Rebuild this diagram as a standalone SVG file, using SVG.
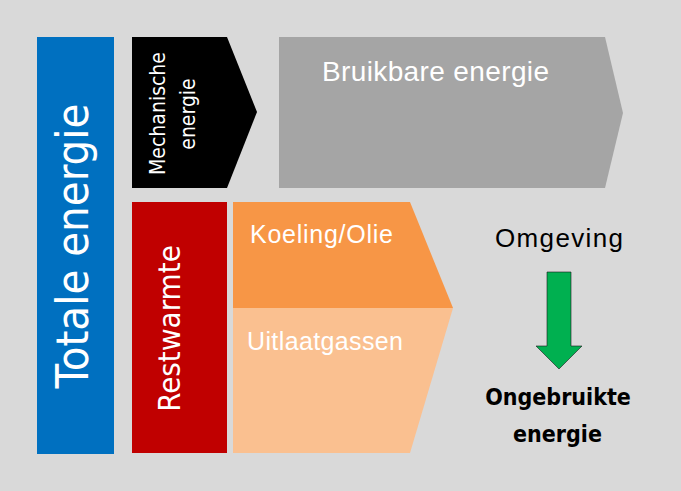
<svg xmlns="http://www.w3.org/2000/svg" width="681" height="491" viewBox="0 0 681 491">
<style>
.cond{font-family:"DejaVu Sans Condensed","DejaVu Sans",sans-serif;font-stretch:condensed;fill:#ffffff}
.cal{font-family:"Liberation Sans",Arial,sans-serif;fill:#ffffff}
.bold{font-family:"DejaVu Sans Condensed","DejaVu Sans",sans-serif;font-stretch:condensed;font-weight:bold;fill:#000000;text-anchor:middle}
</style>
<rect x="0" y="0" width="681" height="491" fill="#d9d9d9"/>
<g id="totale">
<rect x="37" y="37" width="77" height="417" fill="#0070c0"/>
<text class="cond" font-size="45" text-anchor="middle" transform="translate(88,246) rotate(-90)">Totale energie</text>
</g>
<g id="mechanisch">
<polygon points="132,37 227,37 257,112 227,188 132,188" fill="#000000"/>
<text class="cond" font-size="21" text-anchor="middle" transform="translate(165,113.5) rotate(-90)">Mechanische</text>
<text class="cond" font-size="21" text-anchor="middle" transform="translate(195,114) rotate(-90)">energie</text>
</g>
<g id="bruikbaar">
<polygon points="279,37 605,37 623,113 605,188 279,188" fill="#a5a5a5"/>
<text class="cal" font-size="28" x="322" y="81" textLength="227">Bruikbare energie</text>
</g>
<g id="restwarmte">
<rect x="132" y="202" width="95" height="251" fill="#c00000"/>
<text class="cond" font-size="31" text-anchor="middle" transform="translate(180,328.5) rotate(-90)">Restwarmte</text>
</g>
<g id="koeling">
<polygon points="233,202 410,202 453,308 233,308" fill="#f79646"/>
<text class="cal" font-size="25" x="250" y="243" textLength="143">Koeling/Olie</text>
</g>
<g id="uitlaat">
<polygon points="233,308 453,308 410,453 233,453" fill="#fac090"/>
<text class="cal" font-size="25" x="247" y="350" textLength="156">Uitlaatgassen</text>
</g>
<g id="omgeving">
<text class="cal" font-size="26" x="495" y="247" textLength="128" style="fill:#000000">Omgeving</text>
</g>
<g id="connectors">
<polygon points="547,272 571,272 571,346 582,346 559,369 536,346 547,346" fill="#00b050" stroke="#1a1a1a" stroke-width="0.6"/>
</g>
<g id="ongebruikt">
<text class="bold" font-size="23" x="558" y="405">Ongebruikte</text>
<text class="bold" font-size="23" x="557.5" y="442">energie</text>
</g>
</svg>
